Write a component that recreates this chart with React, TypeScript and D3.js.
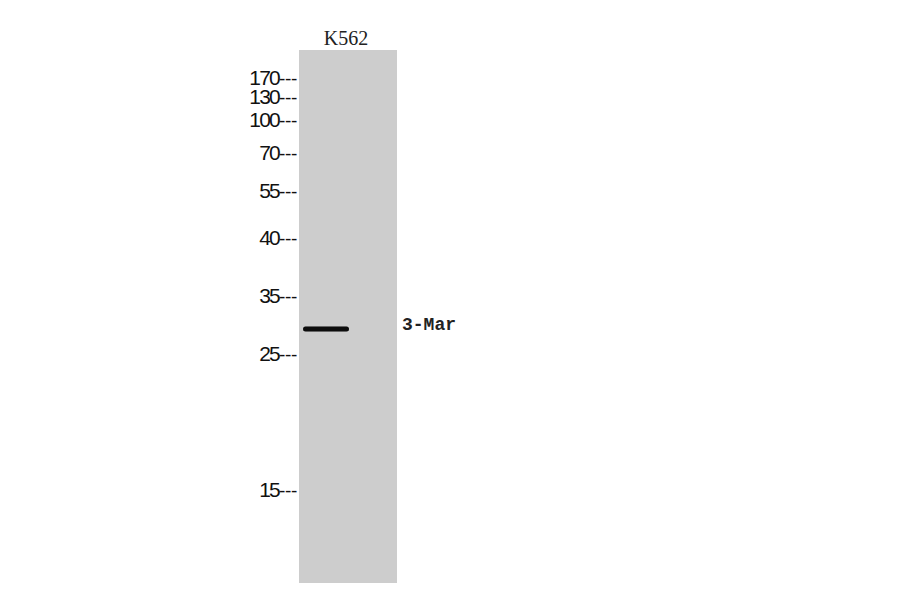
import * as d3 from "d3";
import React, {useEffect, useRef} from "react";

// ladder (kDa) and where each marker sits on the membrane
const markers = [170, 130, 100, 70, 55, 40, 35, 25, 15];
const markerY = [78, 97, 120, 153, 191, 238, 296, 354, 490];
const lanes = ["K562"];
const bandLabels = ["3-Mar"];
const bandKDa = [29.3];

const W = 900, H = 594;

export default function App() {
  const ref = useRef<SVGSVGElement>(null);

  useEffect(() => {
    const svg = d3.select(ref.current);
    svg.selectAll("*").remove();

    const y = d3.scaleLinear().domain(markers).range(markerY);
    const x = d3.scaleBand().domain(lanes).range([299, 397]).padding(0);

    const defs = svg.append("defs");
    defs.append("filter").attr("id", "blur")
      .attr("x", "-20%").attr("y", "-100%").attr("width", "140%").attr("height", "300%")
      .append("feGaussianBlur").attr("stdDeviation", 0.7);

    // membrane lanes
    svg.selectAll("rect.lane")
      .data(lanes)
      .enter().append("rect")
      .attr("class", "lane")
      .attr("x", (d) => x(d))
      .attr("y", 50)
      .attr("width", x.bandwidth())
      .attr("height", 533)
      .attr("fill", "#cdcdcd");

    svg.selectAll("text.lane-label")
      .data(lanes)
      .enter().append("text")
      .attr("x", (d) => x(d) + x.bandwidth() / 2 - 2)
      .attr("y", 45)
      .attr("text-anchor", "middle")
      .style("font-family", "'Liberation Serif', serif")
      .style("font-size", "20px")
      .attr("fill", "#222")
      .text((d) => d);

    // ladder labels
    const lbl = svg.selectAll("text.marker")
      .data(markers)
      .enter().append("text")
      .attr("class", "marker")
      .attr("x", 297)
      .attr("y", (d) => y(d) + 7)
      .attr("text-anchor", "end")
      .style("font-family", "'Liberation Sans', Arial, sans-serif")
      .style("font-size", "21px")
      .attr("fill", "#111");
    lbl.append("tspan")
      .style("letter-spacing", "-1.8px")
      .text((d) => String(d));
    lbl.append("tspan")
      .style("font-size", "19px")
      .style("letter-spacing", "-0.3px")
      .text("---");

    // bands
    const x0 = x(lanes[0]);
    svg.selectAll("rect.band")
      .data(bandKDa)
      .enter().append("rect")
      .attr("class", "band")
      .attr("x", x0 + 4)
      .attr("width", 46)
      .attr("y", (d) => y(d) - 2.5)
      .attr("height", 5)
      .attr("rx", 2.5)
      .attr("fill", "#080808")
      .attr("filter", "url(#blur)");

    svg.selectAll("text.band-label")
      .data(bandLabels)
      .enter().append("text")
      .attr("x", 402)
      .attr("y", (_, i) => y(bandKDa[i]) + 1)
      .style("font-family", "'Liberation Mono', 'DejaVu Sans Mono', monospace")
      .style("font-size", "18px")
      .style("font-weight", "bold")
      .attr("fill", "#222")
      .text((d) => d);
  }, []);

  return (
    <div style={{position: "fixed", left: 0, top: 0, width: W, height: H, background: "#fff"}}>
      <svg ref={ref} width={W} height={H} style={{display: "block"}} />
    </div>
  );
}
